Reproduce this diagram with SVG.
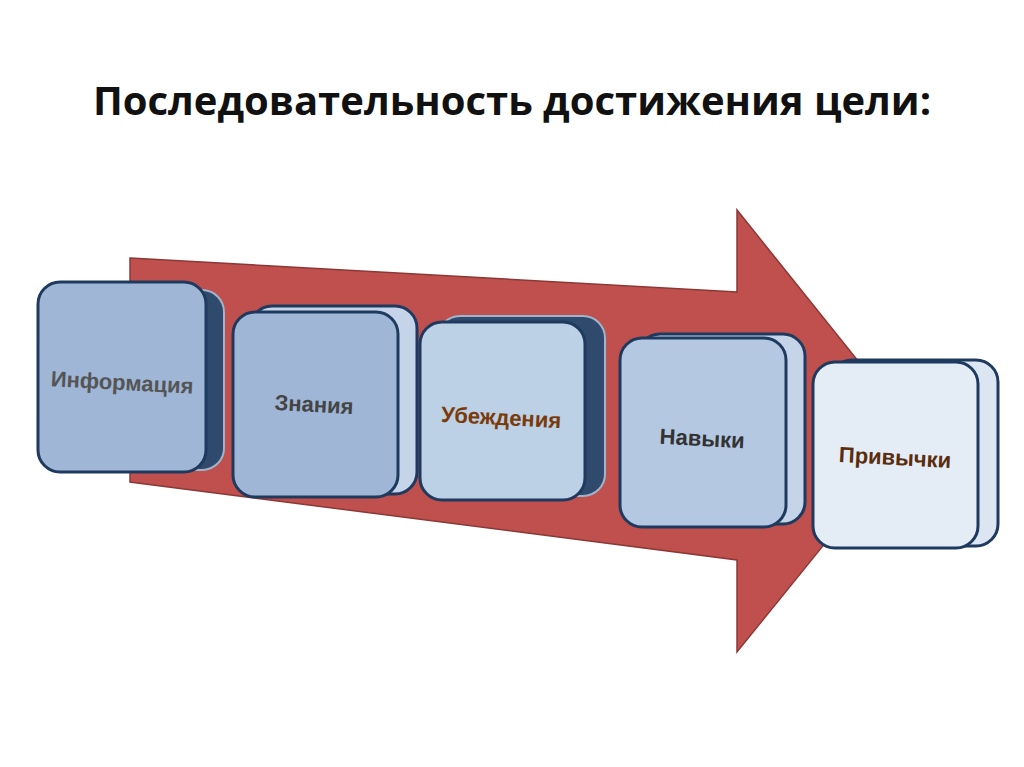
<svg xmlns="http://www.w3.org/2000/svg" width="1024" height="767" viewBox="0 0 1024 767">
<style>
.f{stroke:#1f3a5f;stroke-width:3}
.t{font-family:"Liberation Sans",Arial,sans-serif;font-weight:bold;font-size:22px;text-anchor:middle}
</style>
<rect width="1024" height="767" fill="#fff"/>
<text x="512" y="115" font-family="'Open Sans','Liberation Sans',sans-serif" font-weight="bold" font-size="40" text-anchor="middle" fill="#111">Последовательность достижения цели:</text>
<g id="connectors">
<polygon points="130,258 737,292 737,210 915,432 737,652 737,560 130,482" fill="#c0504d" stroke="#8c3836" stroke-width="1.5"/>
</g>
<g id="n1">
<rect x="52" y="290" width="172" height="180" rx="22" fill="#2f4a6d" stroke="#a0b4cc" stroke-width="2"/>
<rect x="38" y="282" width="168" height="190" rx="22" class="f" fill="#9fb6d6"/>
<text class="t" x="122" y="390" fill="#555" transform="rotate(3 122 385)">Информация</text>
</g>
<g id="n2">
<rect x="250" y="306" width="167" height="188" rx="22" fill="#c5d4e8" class="f"/>
<rect x="233" y="312" width="165" height="185" rx="22" class="f" fill="#9fb6d6"/>
<text class="t" x="314" y="412" fill="#444" transform="rotate(3 314 407)">Знания</text>
</g>
<g id="n3">
<rect x="438" y="316" width="167" height="180" rx="22" fill="#2f4a6d" stroke="#a0b4cc" stroke-width="2"/>
<rect x="420" y="322" width="165" height="178" rx="22" class="f" fill="#bcd0e6"/>
<text class="t" x="501" y="425" fill="#7a3b0a" transform="rotate(3 501 420)">Убеждения</text>
</g>
<g id="n4">
<rect x="638" y="334" width="167" height="190" rx="22" fill="#c5d4e8" class="f"/>
<rect x="620" y="338" width="166" height="189" rx="22" class="f" fill="#b4c8e2"/>
<text class="t" x="702" y="446" fill="#333" transform="rotate(3 702 441)">Навыки</text>
</g>
<g id="n5">
<rect x="830" y="360" width="168" height="186" rx="22" fill="#dce6f2" class="f"/>
<rect x="813" y="362" width="165" height="186" rx="22" class="f" fill="#e4ecf6"/>
<text class="t" x="895" y="465" fill="#5a2d0c" transform="rotate(3 895 460)">Привычки</text>
</g>
</svg>
